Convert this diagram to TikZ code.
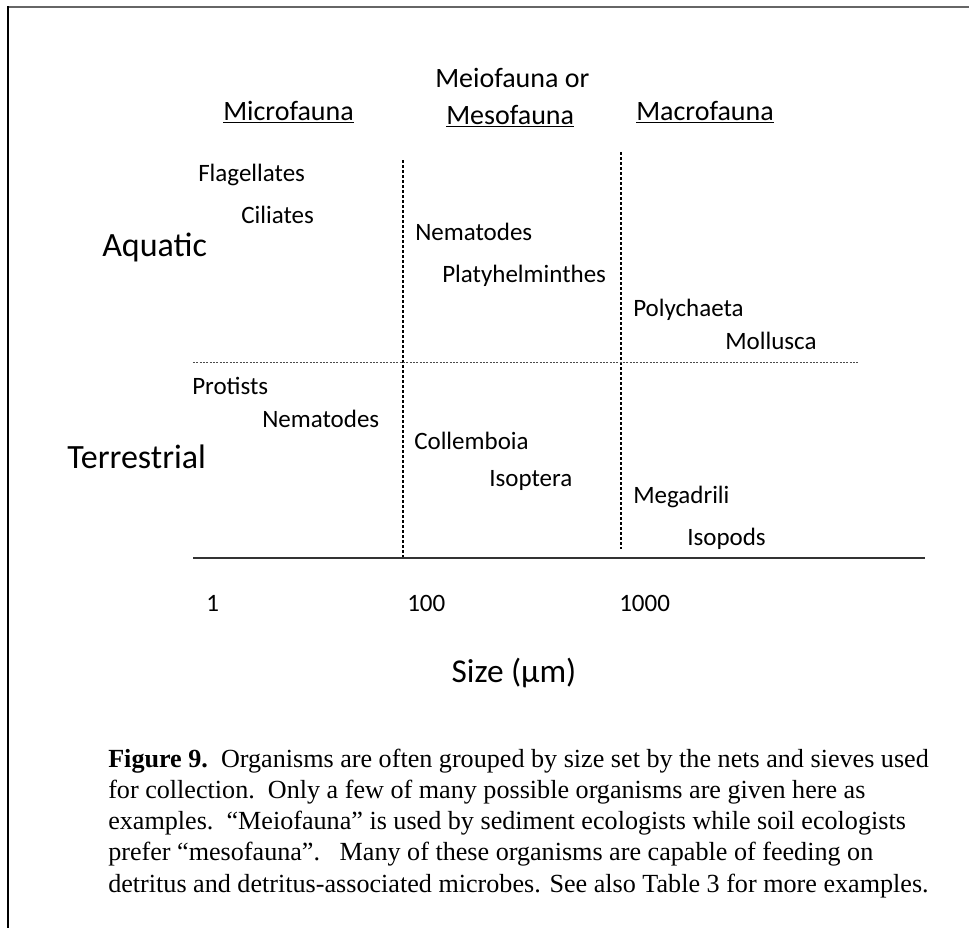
\documentclass[tikz,border=0pt]{standalone}
\usepackage{fontspec}
\setmainfont{Carlito}
\newfontfamily\capfont{Liberation Serif}

\tikzset{
  taxon/.style={anchor=base west,inner sep=0pt,font=\fontsize{18.75}{22}\selectfont},
  group/.style={anchor=base west,inner sep=0pt,font=\fontsize{21}{25}\selectfont},
  habitat/.style={anchor=base west,inner sep=0pt,font=\fontsize{25.5}{30}\selectfont},
  capline/.style={anchor=base west,inner sep=0pt,font=\capfont\fontsize{19.6}{24}\selectfont},
  sieve/.style={line width=1.1pt,dash pattern={on 2.25pt off 1.5pt}}
}

\begin{document}
\begin{tikzpicture}[x=0.75pt,y=0.75pt,yscale=-1,xscale=1]
\useasboundingbox (0,0) rectangle (969,928);

% frame
\draw [line width=1.9pt,color=black!60] (7,7) -- (969,7) ;
\draw [line width=2.2pt] (8,6) -- (8,928) ;

% size classes
\draw [sieve] (403,160) -- (403,558) ;
\draw [sieve] (621,152) -- (621,549) ;
\draw [line width=0.6pt,color=black!70,dash pattern={on 1.5pt off 1pt}] (193,362) -- (858,362) ;
\draw [line width=1.5pt,color=black!80] (193,558) -- (925,558) ;

\node (micro) at (223,120) [group] {\underline{Microfauna}};
\node (meio) at (435,87) [group] {Meiofauna or};
\node (meso) at (446,124) [group] {\underline{Mesofauna}};
\node (macro) at (636,120) [group] {\underline{Macrofauna}};

\node (aquatic) at (102,256) [habitat] {Aquatic};
\node (terrestrial) at (67,468) [habitat] {Terrestrial};

\node (flagellates) at (198,181) [taxon] {Flagellates};
\node (ciliates) at (241,223) [taxon] {Ciliates};
\node (nemaaqua) at (415,240) [taxon] {Nematodes};
\node (platy) at (442,282) [taxon] {Platyhelminthes};
\node (polychaeta) at (633,316) [taxon] {Polychaeta};
\node (mollusca) at (725,349) [taxon] {Mollusca};
\node (protists) at (192,394) [taxon] {Protists};
\node (nematerr) at (262,427) [taxon] {Nematodes};
\node (collembola) at (414,449) [taxon] {Collemboia};
\node (isoptera) at (489,486) [taxon] {Isoptera};
\node (megadrili) at (633,503) [taxon] {Megadrili};
\node (isopods) at (687,545) [taxon] {Isopods};

\node (one) at (206,611) [taxon] {1};
\node (hundred) at (407,611) [taxon] {100};
\node (thousand) at (619,611) [taxon] {1000};
\node (sizelabel) at (514,682) [anchor=base,inner sep=0pt,font=\fontsize{25}{29}\selectfont] {Size (μm)};

% caption
\node (cap1) at (108,767) [capline] {\textbf{Figure 9.}\ \ Organisms are often grouped by size set by the nets and sieves used};
\node (cap2) at (108,798) [capline] {for collection.\ \ Only a few of many possible organisms are given here as};
\node (cap3) at (108,829) [capline] {examples.\ \ “Meiofauna” is used by sediment ecologists while soil ecologists};
\node (cap4) at (108,860) [capline] {prefer “mesofauna”.\ \ \ Many of these organisms are capable of feeding on};
\node (cap5) at (108,892) [capline] {detritus and detritus-associated microbes. See also Table 3 for more examples.};

\end{tikzpicture}
\end{document}
